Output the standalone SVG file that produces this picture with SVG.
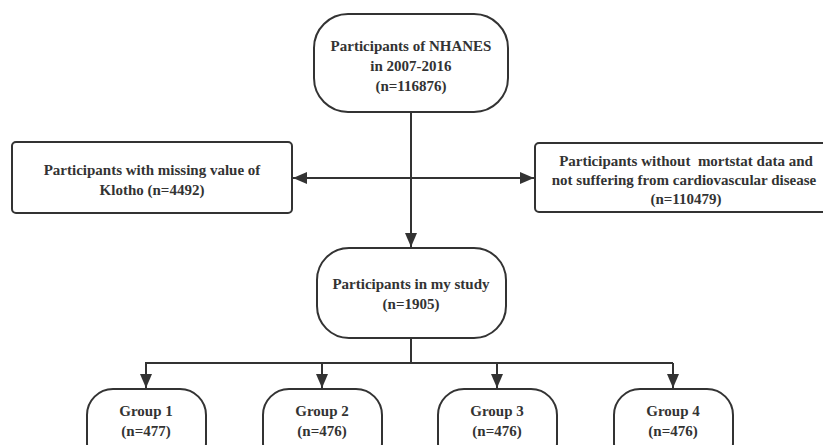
<svg xmlns="http://www.w3.org/2000/svg" width="823" height="445" viewBox="0 0 823 445">
<style>
.box{fill:#fff;stroke:#333;stroke-width:2}
.t{font-family:"Liberation Serif","Times New Roman",serif;font-weight:bold;font-size:15px;fill:#333;text-anchor:middle}
.c{fill:none;stroke:#333;stroke-width:2}
</style>
<defs>
<marker id="ah" markerUnits="userSpaceOnUse" markerWidth="14" markerHeight="12" refX="14" refY="6" orient="auto">
<path d="M0,0 L14,6 L0,12 Z" fill="#333"/>
</marker>
</defs>
<rect width="823" height="445" fill="#fff"/>
<g id="connectors">
<line class="c" x1="411" y1="112" x2="411" y2="247" marker-end="url(#ah)"/>
<line class="c" x1="411" y1="178" x2="293" y2="178" marker-end="url(#ah)"/>
<line class="c" x1="411" y1="178" x2="534" y2="178" marker-end="url(#ah)"/>
<line class="c" x1="411" y1="338" x2="411" y2="363"/>
<line class="c" x1="145" y1="363" x2="673" y2="363"/>
<line class="c" x1="146" y1="363" x2="146" y2="388" marker-end="url(#ah)"/>
<line class="c" x1="322" y1="363" x2="322" y2="388" marker-end="url(#ah)"/>
<line class="c" x1="497" y1="363" x2="497" y2="388" marker-end="url(#ah)"/>
<line class="c" x1="673" y1="363" x2="673" y2="388" marker-end="url(#ah)"/>
</g>
<g id="n_top">
<rect class="box" x="314" y="14" width="194" height="98" rx="34" ry="34"/>
<text class="t" x="411" y="51">Participants of NHANES</text>
<text class="t" x="411" y="71">in 2007-2016</text>
<text class="t" x="411" y="91">(n=116876)</text>
</g>
<g id="n_left">
<rect class="box" x="12" y="142" width="280" height="71" rx="4" ry="4"/>
<text class="t" x="152" y="175">Participants with missing value of</text>
<text class="t" x="152" y="195">Klotho (n=4492)</text>
</g>
<g id="n_right">
<rect class="box" x="535" y="143" width="302" height="69" rx="4" ry="4"/>
<text class="t" x="686" y="166" xml:space="preserve">Participants without  mortstat data and</text>
<text class="t" x="684" y="185">not suffering from cardiovascular disease</text>
<text class="t" x="686" y="204">(n=110479)</text>
</g>
<g id="n_study">
<rect class="box" x="317" y="248" width="189" height="90" rx="32" ry="32"/>
<text class="t" x="411" y="289">Participants in my study</text>
<text class="t" x="411" y="309">(n=1905)</text>
</g>
<g id="n_g1">
<rect class="box" x="87" y="389" width="119" height="80" rx="26" ry="26"/>
<text class="t" x="146" y="416">Group 1</text>
<text class="t" x="146" y="436">(n=477)</text>
</g>
<g id="n_g2">
<rect class="box" x="263" y="389" width="119" height="80" rx="26" ry="26"/>
<text class="t" x="322" y="416">Group 2</text>
<text class="t" x="322" y="436">(n=476)</text>
</g>
<g id="n_g3">
<rect class="box" x="438" y="389" width="119" height="80" rx="26" ry="26"/>
<text class="t" x="497" y="416">Group 3</text>
<text class="t" x="497" y="436">(n=476)</text>
</g>
<g id="n_g4">
<rect class="box" x="614" y="389" width="119" height="80" rx="26" ry="26"/>
<text class="t" x="673" y="416">Group 4</text>
<text class="t" x="673" y="436">(n=476)</text>
</g>
</svg>
